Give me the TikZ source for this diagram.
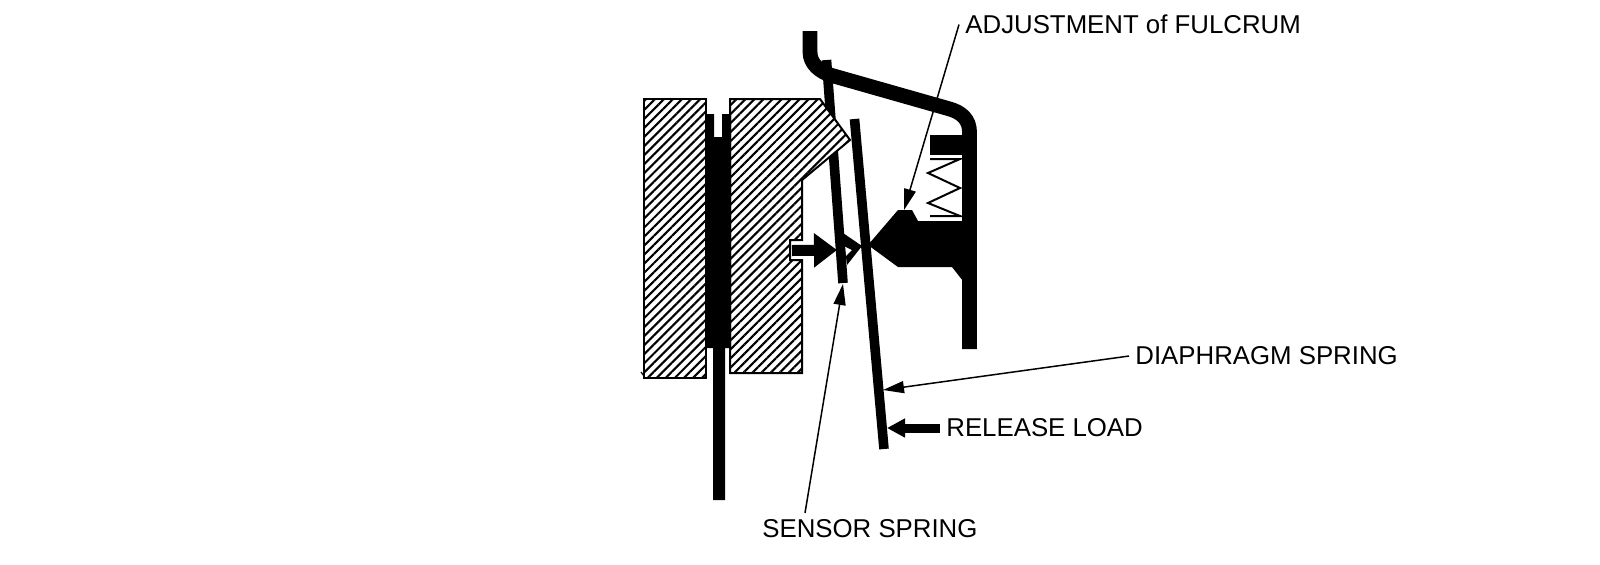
\documentclass[tikz,border=0pt]{standalone}
\usepackage{fontspec}
\setmainfont{Liberation Sans}
\usetikzlibrary{arrows.meta,patterns.meta}
\tikzset{
  hatched/.style={draw=black, line width=1pt, preaction={fill=white},
    pattern={Lines[angle=45,distance=3.2pt,line width=1.05pt]}},
  plate/.style={line width=4.8pt},
  housing/.style={line width=7.4pt, line join=round},
  leader/.style={line width=0.75pt, -{Triangle[length=10.5pt,width=6pt]}},
  tag/.style={font=\fontsize{12.9pt}{15pt}\selectfont, anchor=west, inner sep=3pt},
}

\begin{document}
\begin{tikzpicture}
    [x=0.5pt, y=-0.5pt]
    \useasboundingbox[fill=white] (0,0) rectangle (1600,564);
    % sensor spring sits behind the pressure plate
    \draw[plate] (826.5,60) -- (843,283);
    \draw[hatched] (643.5,99) rectangle (706,378);
    \draw[hatched] (730,99) -- (820,99) -- (850,140) -- (802,180) -- (802,240)
      -- (790,240) -- (790,260) -- (802,260) -- (802,373) -- (730,373) -- cycle;
    \draw[line width=0.6pt] (641,372) -- (644,376);
    % disc
    \fill (705,114) -- (714,114) -- (714,137) -- (722,137) -- (722,114) -- (731,114)
      -- (731,348) -- (725,348) -- (725,500) -- (713,500) -- (713,348) -- (705,348) -- cycle;
    % cover and fulcrum
    \draw[housing] (810,31) -- (810,52) .. controls (810,64) and (820,72) .. (832,75.5)
      -- (948,108.5) .. controls (962,112) and (969.5,120) .. (969.5,132) -- (969.5,349);
    \fill (930,135) rectangle (963,155);
    \fill (868,245) -- (898,210) -- (912,210) -- (918,221) -- (963,221) -- (963,281)
      -- (952,267) -- (898,267) -- cycle;
    \draw[line width=1pt] (930,159) -- (960,159) -- (928,173) -- (960,188)
      -- (928,203) -- (960,216) -- (930,216);
    \draw[plate] (854.5,119) -- (884,449);
    % pivot ring
    \fill[even odd rule] (843,233) -- (862,246) -- (847,265) -- cycle
      (844,246) -- (852,250) -- (845,257) -- cycle;
    \node[tag] (adjustlabel) at (959,24.5) {ADJUSTMENT of FULCRUM};
    \node[tag] (diaphragmlabel) at (1129,356) {DIAPHRAGM SPRING};
    \node[tag] (releaselabel) at (940,428) {RELEASE LOAD};
    \node[tag, anchor=south west] (sensorlabel) at (756,544) {SENSOR SPRING};
    \coordinate (fulcrumtop) at (904,210);
    \coordinate (diaphragmedge) at (883,390);
    \coordinate (sensorend) at (843,284);
    \coordinate (diaphragmback) at (887,428);
    \coordinate (plateedge) at (837,250);
    \coordinate (platenotch) at (792,250.5);
    \draw[leader] (adjustlabel.west) -- (fulcrumtop);
    \draw[leader] (diaphragmlabel.west) -- (diaphragmedge);
    \draw[leader] ([xshift=24.5pt]sensorlabel.north west) -- (sensorend);
    \draw[line width=4.5pt, -{Triangle[length=9pt,width=9pt]}] (releaselabel.west) -- (diaphragmback);
    \draw[line width=5.5pt, -{Triangle[length=11.5pt,width=16.5pt]}] (platenotch) -- (plateedge);
\end{tikzpicture}
\end{document}
